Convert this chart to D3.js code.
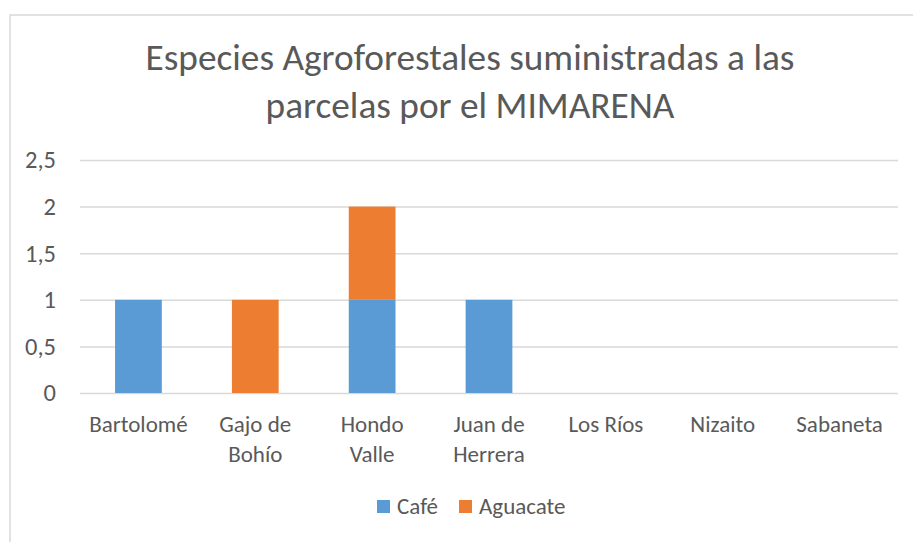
<!DOCTYPE html>
<html>
<head>
<meta charset="utf-8">
<script src="https://cdn.jsdelivr.net/npm/d3@7"></script>
<style>
  html, body { margin: 0; padding: 0; background: #fff; }
  svg { display: block; }
  text { font-family: Carlito, Calibri, Lato, sans-serif; fill: #595959; }
</style>
</head>
<body>
<svg id="chart" width="913" height="542"></svg>
<script>
const categories = [["Bartolomé"], ["Gajo de", "Bohío"], ["Hondo", "Valle"], ["Juan de", "Herrera"], ["Los Ríos"], ["Nizaito"], ["Sabaneta"]];
const cafe     = [1, 0, 1, 1, 0, 0, 0];
const aguacate = [0, 1, 1, 0, 0, 0, 0];
const seriesNames = ["Café", "Aguacate"];
const seriesColors = ["#5B9BD5", "#ED7D31"];
const yTicks = [0, 0.5, 1, 1.5, 2, 2.5];
const titleLines = ["Especies Agroforestales suministradas a las", "parcelas por el MIMARENA"];

const svg = d3.select("#chart");
const FONT = "Carlito, Calibri, Lato, sans-serif";

// chart frame
svg.append("rect").attr("x", 10).attr("y", 15).attr("width", 960).attr("height", 600)
  .attr("fill", "#fff").attr("stroke", "#D9D9D9").attr("stroke-width", 1.5);

// title
svg.append("g").selectAll("text").data(titleLines).join("text")
  .attr("x", 470).attr("y", (d, i) => 70 + i * 48)
  .attr("text-anchor", "middle").attr("font-size", 37.3).attr("font-weight", 300).text(d => d);

const keys = categories.map(c => c.join(" "));
const data = keys.map((k, i) => ({ key: k, "Café": cafe[i], "Aguacate": aguacate[i] }));

const x = d3.scaleBand().domain(keys).range([80, 898]).paddingInner(0.6).paddingOuter(0.3);
const y = d3.scaleLinear().domain([0, 2.5]).range([393, 160]);

// gridlines
svg.append("g").attr("transform", "translate(80,0)")
  .call(d3.axisLeft(y).tickValues(yTicks).tickSize(-818).tickFormat(""))
  .call(g => g.select(".domain").remove())
  .call(g => g.selectAll("line").attr("stroke", "#D9D9D9").attr("stroke-width", 1.5));

// y labels
const fmt = d => String(d).replace(".", ",");
svg.append("g").attr("transform", "translate(56,0)")
  .call(d3.axisLeft(y).tickValues(yTicks).tickSize(0).tickPadding(0).tickFormat(fmt))
  .call(g => g.select(".domain").remove())
  .call(g => g.selectAll("text").attr("font-size", 24.5).attr("fill", "#595959")
    .attr("font-family", FONT));

// stacked bars
const stack = d3.stack().keys(seriesNames);
const layers = stack(data);
svg.append("g").selectAll("g").data(layers).join("g")
  .attr("fill", (d, i) => seriesColors[i])
  .selectAll("rect").data(d => d.filter(s => s[1] - s[0] > 0)).join("rect")
  .attr("x", d => x(d.data.key)).attr("width", x.bandwidth())
  .attr("y", d => y(d[1])).attr("height", d => y(d[0]) - y(d[1]));

// x labels
const xl = svg.append("g").selectAll("text").data(categories).join("text")
  .attr("x", (d, i) => x(keys[i]) + x.bandwidth() / 2)
  .attr("y", 432).attr("text-anchor", "middle").attr("font-size", 23);
xl.selectAll("tspan").data(d => d).join("tspan")
  .attr("x", function () { return d3.select(this.parentNode).attr("x"); })
  .attr("dy", (d, i) => i === 0 ? 0 : 29.5).text(d => d);

// legend
const legendX = [377, 459];
const lg = svg.append("g").selectAll("g").data(seriesNames).join("g")
  .attr("transform", (d, i) => `translate(${legendX[i]},500)`);
lg.append("rect").attr("width", 13).attr("height", 13).attr("fill", (d, i) => seriesColors[i]);
lg.append("text").attr("x", 20).attr("y", 14).attr("font-size", 23).text(d => d);
</script>
</body>
</html>
